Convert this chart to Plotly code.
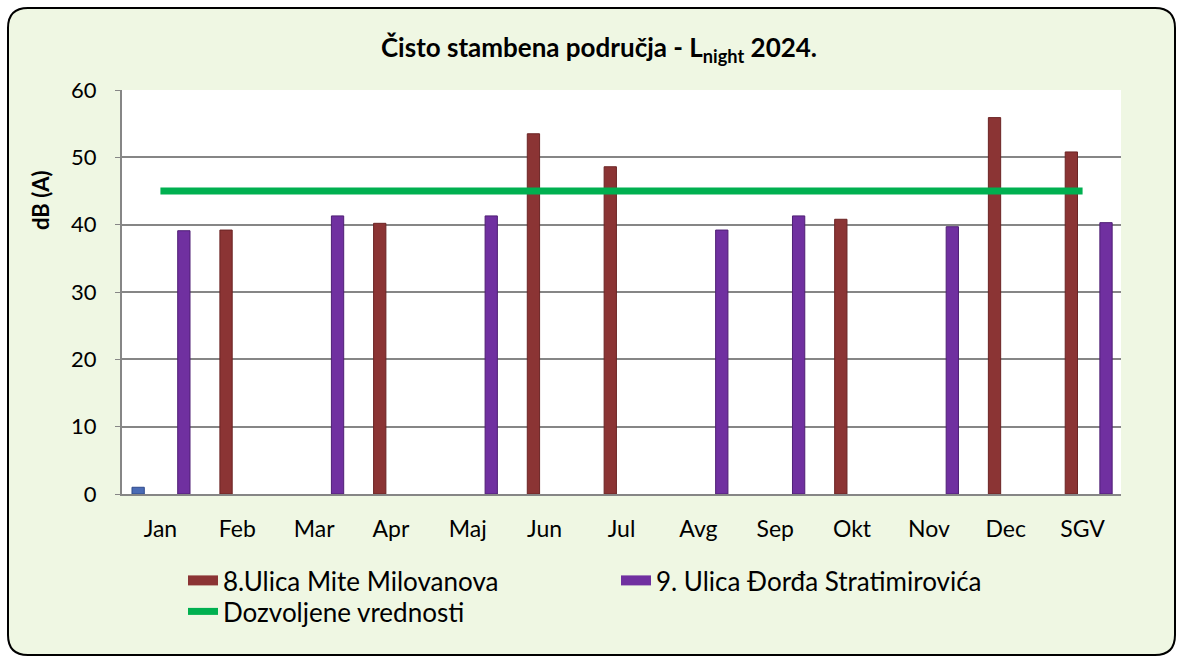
import plotly.graph_objects as go

categories = ["Jan", "Feb", "Mar", "Apr", "Maj", "Jun", "Jul", "Avg", "Sep", "Okt", "Nov", "Dec", "SGV"]
series_blue = [1, None, None, None, None, None, None, None, None, None, None, None, None]
series_mite = [None, 39.2, None, 40.2, None, 53.5, 48.6, None, None, 40.8, None, 55.9, 50.8]
series_djordja = [39.1, None, 41.3, None, 41.3, None, None, 39.2, 41.3, None, 39.7, None, 40.3]
limit_values = [45] * 13

name_mite = "8.Ulica Mite Milovanova"
name_djordja = "9. Ulica Đorđa Stratimirovića"
name_limit = "Dozvoljene vrednosti"

FONT = "Lato, Carlito, Calibri, sans-serif"
RED = "#8B3434"
PURPLE = "#7030A0"
BLUE = "#4A6BB5"
GREEN = "#00B050"

fig = go.Figure()
bw = 0.16
fig.add_trace(go.Bar(x=categories, y=series_blue, width=bw, offset=-0.29 - bw / 2,
                     marker=dict(color=BLUE, line=dict(color="#2F4A8A", width=1)),
                     showlegend=False, name="Serija 1"))
fig.add_trace(go.Bar(x=categories, y=series_mite, width=bw, offset=-0.146 - bw / 2,
                     marker=dict(color=RED, line=dict(color="#6B2424", width=1)),
                     showlegend=False, name=name_mite, legendgroup="m"))
fig.add_trace(go.Bar(x=categories, y=series_djordja, width=bw, offset=0.305 - bw / 2,
                     marker=dict(color=PURPLE, line=dict(color="#4F1F75", width=1)),
                     showlegend=False, name=name_djordja, legendgroup="d"))
fig.add_trace(go.Scatter(x=categories, y=limit_values, mode="lines",
                         line=dict(color=GREEN, width=7), showlegend=False,
                         name=name_limit, legendgroup="l"))
# legend entries
fig.add_trace(go.Scatter(x=[None], y=[None], mode="lines", line=dict(color=RED, width=14),
                         name=name_mite, legendgroup="m", legendrank=1, legend="legend"))
fig.add_trace(go.Scatter(x=[None], y=[None], mode="lines", line=dict(color=PURPLE, width=14),
                         name=name_djordja, legendgroup="d", legendrank=2, legend="legend"))
fig.add_trace(go.Scatter(x=[None], y=[None], mode="lines", line=dict(color=GREEN, width=7),
                         name=name_limit, legendgroup="l", legendrank=3, legend="legend2"))

# geometry helpers (pixel -> paper)
L, R, T, B = 122, 1121, 90, 494
W, H = R - L, B - T
def px(x):
    return (x - L) / W
def py(y):
    return (B - y) / H

x0, x1, y0, y1 = px(8), px(1175), py(655), py(8)
rx, ry = 20 / W, 20 / H
path = (f"M {x0+rx},{y1} L {x1-rx},{y1} Q {x1},{y1} {x1},{y1-ry} "
        f"L {x1},{y0+ry} Q {x1},{y0} {x1-rx},{y0} L {x0+rx},{y0} "
        f"Q {x0},{y0} {x0},{y0+ry} L {x0},{y1-ry} Q {x0},{y1} {x0+rx},{y1} Z")

LEGFONT = dict(family=FONT, size=26, color="black")
fig.update_layout(
    width=1179, height=659,
    margin=dict(l=L, r=1179 - R, t=T, b=659 - B),
    paper_bgcolor="white", plot_bgcolor="white",
    font=dict(family=FONT, size=22, color="black"),
    barmode="overlay",
    title=dict(text="<b>Čisto stambena područja - L<sub>night</sub> 2024.</b>",
               x=599 / 1179, xanchor="center", y=1 - 48 / 659, yanchor="middle",
               font=dict(family=FONT, size=26, color="black")),
    shapes=[
        dict(type="path", path=path, xref="paper", yref="paper",
             fillcolor="#EFF7E3", line=dict(color="black", width=2), layer="below"),
        dict(type="rect", xref="paper", yref="paper", x0=0, x1=1, y0=0, y1=1,
             fillcolor="white", line=dict(width=0), layer="below"),
    ],
    annotations=[
        dict(text="<b>dB (A)</b>", xref="paper", yref="paper", x=px(40), y=py(200),
             xanchor="center", yanchor="middle", textangle=-90, showarrow=False,
             font=dict(family=FONT, size=22, color="black")),
    ],
    legend=dict(orientation="h", x=px(183), y=py(557), xanchor="left", yanchor="top",
                entrywidth=388, entrywidthmode="pixels", itemwidth=30,
                font=LEGFONT, bgcolor="rgba(0,0,0,0)"),
    legend2=dict(orientation="h", x=px(183), y=py(588), xanchor="left", yanchor="top",
                 itemwidth=30, font=LEGFONT, bgcolor="rgba(0,0,0,0)"),
    showlegend=True,
)
fig.update_xaxes(type="category", showgrid=False, showline=True, linecolor="#868686",
                 linewidth=2, ticks="", tickfont=dict(size=23), ticklabelstandoff=13)
fig.update_yaxes(range=[0, 60], dtick=10, showgrid=True, gridcolor="#868686", gridwidth=1.5,
                 showline=True, linecolor="#868686", linewidth=2, ticks="outside",
                 ticklen=5, tickcolor="#868686", tickfont=dict(size=22), zeroline=False,
                 ticklabelstandoff=14)

fig.write_html("out.html", post_script="document.body.style.margin='0';",
               config={"displayModeBar": False})
